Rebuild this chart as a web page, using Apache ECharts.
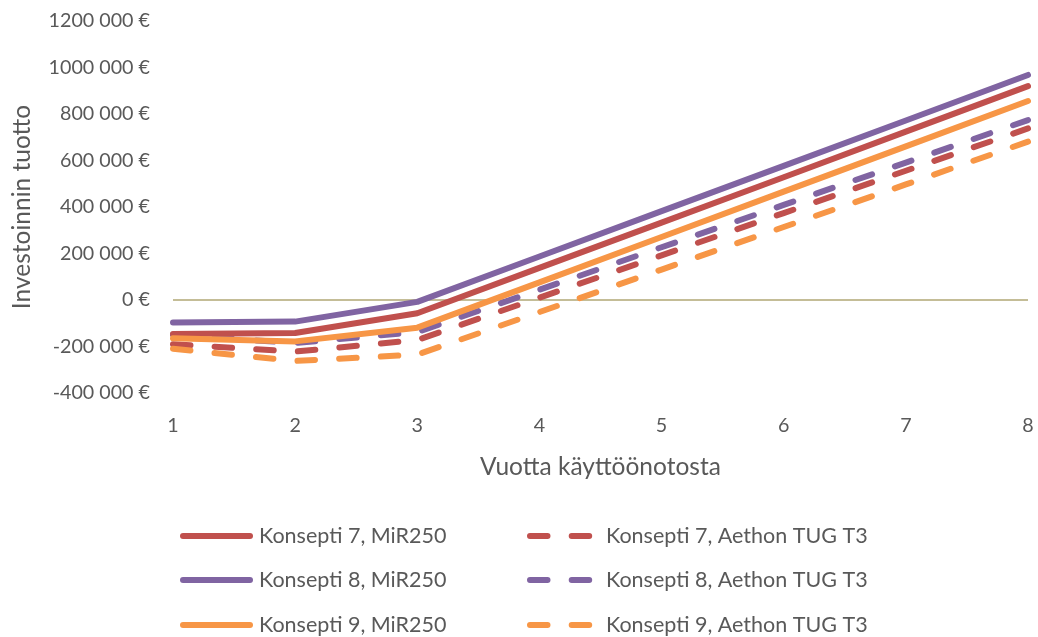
<!DOCTYPE html>
<html>
<head>
<meta charset="utf-8">
<script src="https://cdn.jsdelivr.net/npm/echarts@6/dist/echarts.min.js"></script>
<style>
  html, body { margin: 0; padding: 0; background: #fff; }
  #chart { width: 1038px; height: 637px; }
</style>
</head>
<body>
<div id="chart"></div>
<script>
// Years since commissioning
const years = ['1', '2', '3', '4', '5', '6', '7', '8'];

// Return on investment (EUR) per concept and robot
const k7MiR = [-146000, -142000, -57000, 138000, 333000, 528000, 724000, 920000];
const k8MiR = [-97000, -93000, -8000, 187000, 382000, 577000, 772000, 968000];
const k9MiR = [-165000, -178000, -119000, 76000, 271000, 466000, 661000, 856000];
const k7Aethon = [-190000, -222000, -172000, 10000, 192000, 374000, 556000, 738000];
const k8Aethon = [-150000, -185000, -138000, 44000, 227000, 409000, 591000, 774000];
const k9Aethon = [-210000, -262000, -235000, -52000, 131000, 314000, 497000, 681000];

const seriesNames = [
  'Konsepti 7, MiR250', 'Konsepti 8, MiR250', 'Konsepti 9, MiR250',
  'Konsepti 7, Aethon TUG T3', 'Konsepti 8, Aethon TUG T3', 'Konsepti 9, Aethon TUG T3'
];

const RED = '#c0504d', PURPLE = '#8064a2', ORANGE = '#f79646';
const FONT = 'Lato, "Liberation Sans", sans-serif';
const TEXT = '#595959';
const DASH = [17.5, 24.2];

function euro(v) {
  if (v === 0) return '0 €';
  const neg = v < 0;
  const a = Math.abs(v);
  const thousands = Math.floor(a / 1000);
  const rest = String(a % 1000).padStart(3, '0');
  return (neg ? '-' : '') + thousands + ' ' + rest + ' €';
}

function line(name, data, color, dashed) {
  return {
    name, type: 'line', data,
    symbol: 'none', smooth: false,
    lineStyle: { color, width: 6, type: dashed ? DASH : 'solid', cap: 'round', join: 'round' },
    itemStyle: { color },
    z: dashed ? 2 : 3
  };
}

const series = [
  line(seriesNames[0], k7MiR, RED, false),
  line(seriesNames[1], k8MiR, PURPLE, false),
  line(seriesNames[2], k9MiR, ORANGE, false),
  line(seriesNames[3], k7Aethon, RED, true),
  line(seriesNames[4], k8Aethon, PURPLE, true),
  line(seriesNames[5], k9Aethon, ORANGE, true)
];

// Zero reference line
series[0].markLine = {
  silent: true, symbol: 'none', label: { show: false },
  lineStyle: { color: '#c4bd97', width: 2, type: 'solid' },
  data: [{ yAxis: 0 }],
  z: 1
};

// Two legend columns, three rows
const rowCenters = [538, 582, 627];
const legends = [];
seriesNames.forEach((n, i) => {
  const col = i < 3 ? 0 : 1;
  const row = i % 3;
  legends.push({
    data: [n],
    left: col === 0 ? 180 : 527,
    top: rowCenters[row] - 13,
    padding: 0,
    itemWidth: 67, itemHeight: 26,
    itemStyle: { opacity: 0 },
    lineStyle: { width: 6, cap: 'round' },
    textStyle: { fontFamily: FONT, fontSize: 21.5, color: TEXT, padding: [0, 0, 0, 4] },
    selectedMode: false
  });
});

const chart = echarts.init(document.getElementById('chart'), null, { renderer: 'canvas' });
chart.setOption({
  animation: false,
  backgroundColor: '#ffffff',
  grid: { left: 173, right: 10, top: 21, bottom: 244, containLabel: false, outerBoundsMode: 'none' },
  legend: legends,
  xAxis: {
    type: 'category', data: years, boundaryGap: false,
    name: 'Vuotta käyttöönotosta', nameLocation: 'middle', nameGap: 62,
    nameTextStyle: { fontFamily: FONT, fontSize: 24.5, color: TEXT },
    axisLine: { show: false, onZero: false },
    axisTick: { show: false },
    axisLabel: { fontFamily: FONT, fontSize: 19.7, color: TEXT, margin: 23 },
    splitLine: { show: false }
  },
  yAxis: {
    type: 'value', min: -400000, max: 1200000, interval: 200000,
    name: 'Investoinnin tuotto', nameLocation: 'middle', nameGap: 138, nameRotate: 90,
    nameTextStyle: { fontFamily: FONT, fontSize: 24.5, color: TEXT },
    axisLine: { show: false }, axisTick: { show: false },
    splitLine: { show: false },
    axisLabel: { fontFamily: FONT, fontSize: 19.7, color: TEXT, margin: 23, formatter: euro }
  },
  series
});
</script>
</body>
</html>
